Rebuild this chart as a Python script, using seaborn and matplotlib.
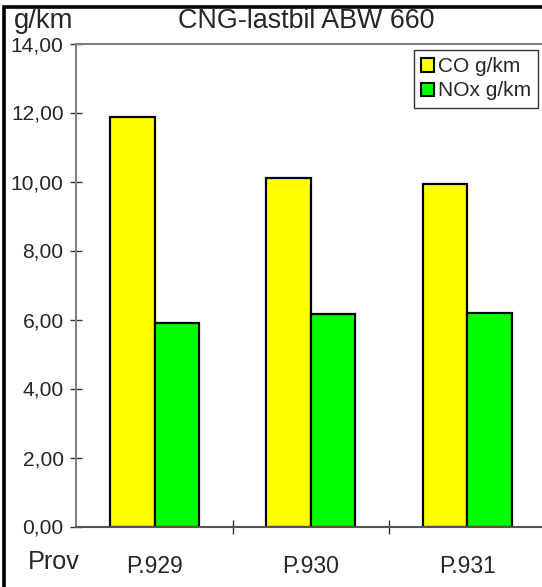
import matplotlib
matplotlib.use("Agg")
import matplotlib.pyplot as plt
from matplotlib.patches import Rectangle, Patch
from matplotlib.ticker import FixedLocator, FuncFormatter
import seaborn as sns
import pandas as pd

categories = ["P.929", "P.930", "P.931"]
co_values = [11.86, 10.11, 9.94]
nox_values = [5.89, 6.15, 6.18]
series_names = ["CO g/km", "NOx g/km"]
colors = ["#FFFF00", "#00FF00"]

df = pd.DataFrame({
    "Prov": categories * 2,
    "Serie": [series_names[0]] * 3 + [series_names[1]] * 3,
    "value": co_values + nox_values,
})

sns.set_theme(style="white")
plt.rcParams["font.family"] = ["Liberation Sans", "DejaVu Sans"]

W, H = 542, 587
fig = plt.figure(figsize=(W / 100, H / 100), dpi=100)
fig.patch.set_facecolor("white")

left_px, right_px, top_px, bot_px = 76.3, 570.0, 43.5, 526.5
ax = fig.add_axes([left_px / W, (H - bot_px) / H, (right_px - left_px) / W, (bot_px - top_px) / H])

sns.barplot(data=df, x="Prov", y="value", hue="Serie", palette=colors,
            width=0.57, edgecolor="black", linewidth=1.6, ax=ax, legend=False,
            saturation=1)

px_per_unit = 156.4
ax.set_xlim(-0.5, -0.5 + (right_px - left_px) / px_per_unit)
ax.set_ylim(0, 14)
ax.yaxis.set_major_locator(FixedLocator([0, 2, 4, 6, 8, 10, 12, 14]))
ax.yaxis.set_major_formatter(FuncFormatter(lambda v, p: f"{v:.2f}".replace(".", ",")))
ax.xaxis.set_minor_locator(FixedLocator([0.5, 1.5, 2.5]))
ax.tick_params(axis="y", which="major", direction="inout", length=8.4, width=1, color="#333333",
               labelsize=15.1, pad=5, left=True)
ax.tick_params(axis="x", which="major", length=0, labelsize=16.5, pad=20.5)
ax.tick_params(axis="x", which="minor", direction="inout", length=10, width=1, color="#333333", bottom=True)
ax.set_xlabel("")
ax.set_ylabel("")
for s in ["left", "top"]:
    ax.spines[s].set_color("#808080")
    ax.spines[s].set_linewidth(1.5)
ax.spines["bottom"].set_color("#555555")
ax.spines["bottom"].set_linewidth(1.5)
ax.spines["right"].set_visible(False)
ax.grid(False)

# legend
handles = [Patch(facecolor=c, edgecolor="black", linewidth=1.5) for c in colors]
leg = ax.legend(handles, series_names, loc="upper left",
                bbox_to_anchor=(414 / W, (H - 50) / H), bbox_transform=fig.transFigure,
                fontsize=15.0, frameon=True, fancybox=False, handlelength=0.6, handleheight=0.6,
                handletextpad=0.2, labelspacing=0.25, borderpad=0.35, borderaxespad=0)
leg.get_frame().set_edgecolor("black")
leg.get_frame().set_linewidth(1.0)

fig.text(13.8 / W, 1 - 21 / H, "g/km", fontsize=19.8, va="center", ha="left")
fig.text(306 / W, 1 - 21 / H, "CNG-lastbil ABW 660", fontsize=19.4, va="center", ha="center")
fig.text(27.7 / W, 1 - 562 / H, "Prov", fontsize=18.2, va="center", ha="left")

fig.add_artist(Rectangle((3.5 / W, -0.1), 1.2, 1 - 7.3 / H + 0.1, transform=fig.transFigure,
                         fill=False, edgecolor="black", linewidth=2.6))

fig.savefig("out.png", dpi=100)
